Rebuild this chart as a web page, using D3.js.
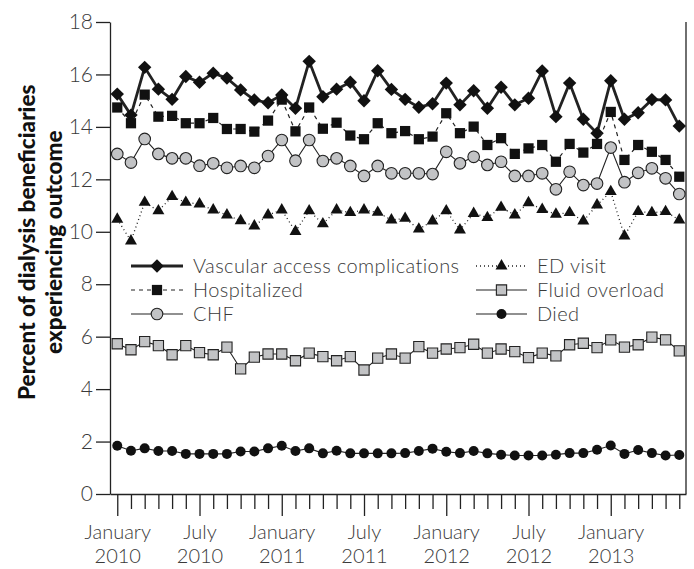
<!DOCTYPE html>
<html>
<head>
<meta charset="utf-8">
<script src="https://cdn.jsdelivr.net/npm/d3@7"></script>
<style>
  html, body { margin: 0; padding: 0; background: #ffffff; }
  svg { display: block; }
  text { font-family: "Lato", "Noto Sans", sans-serif; }
</style>
</head>
<body>
<svg id="chart" width="694" height="569"></svg>
<script>
// ---- Data (monthly, January 2010 – June 2013) ----
const months = ["2010-01","2010-02","2010-03","2010-04","2010-05","2010-06","2010-07","2010-08","2010-09","2010-10","2010-11","2010-12",
                "2011-01","2011-02","2011-03","2011-04","2011-05","2011-06","2011-07","2011-08","2011-09","2011-10","2011-11","2011-12",
                "2012-01","2012-02","2012-03","2012-04","2012-05","2012-06","2012-07","2012-08","2012-09","2012-10","2012-11","2012-12",
                "2013-01","2013-02","2013-03","2013-04","2013-05","2013-06"];
const tickLabels = [["January","2010"],["July","2010"],["January","2011"],["July","2011"],["January","2012"],["July","2012"],["January","2013"]];
const yTicks = [0,2,4,6,8,10,12,14,16,18];

const vascular = [15.25,14.45,16.27,15.44,15.05,15.92,15.70,16.05,15.86,15.41,15.03,14.92,15.22,14.71,16.50,15.15,15.44,15.70,15.00,16.14,15.43,
                  15.05,14.75,14.88,15.67,14.84,15.38,14.71,15.51,14.84,15.09,16.13,14.39,15.67,14.29,13.76,15.76,14.29,14.54,15.04,15.03,14.03];
const hospitalized = [14.74,14.14,15.23,14.39,14.42,14.14,14.14,14.34,13.92,13.92,13.82,14.24,15.04,13.83,14.74,13.93,14.16,13.67,13.53,14.14,13.76,
                      13.84,13.53,13.63,14.52,13.76,14.01,13.31,13.57,12.97,13.18,13.31,12.67,13.35,13.02,13.35,14.57,12.74,13.31,13.05,12.74,12.10];
const chf = [12.97,12.64,13.54,12.97,12.80,12.80,12.52,12.61,12.44,12.51,12.44,12.89,13.50,12.71,13.50,12.70,12.80,12.51,12.13,12.51,12.23,
             12.23,12.23,12.20,13.05,12.61,12.86,12.55,12.67,12.13,12.13,12.23,11.62,12.29,11.78,11.84,13.21,11.89,12.25,12.42,12.04,11.44];
const edVisit = [10.48,9.65,11.12,10.80,11.34,11.12,11.06,10.83,10.64,10.42,10.22,10.64,10.83,10.01,10.80,10.30,10.83,10.73,10.83,10.74,10.45,
                 10.51,10.10,10.41,10.80,10.07,10.70,10.54,10.93,10.64,11.11,10.85,10.67,10.73,10.41,11.02,11.53,9.84,10.77,10.73,10.77,10.45];
const fluidOverload = [5.73,5.50,5.81,5.66,5.31,5.66,5.39,5.31,5.60,4.77,5.22,5.34,5.34,5.08,5.37,5.24,5.08,5.24,4.73,5.18,5.34,
                       5.18,5.62,5.37,5.53,5.58,5.71,5.37,5.53,5.43,5.20,5.37,5.27,5.69,5.75,5.58,5.88,5.60,5.69,5.98,5.88,5.46];
const died = [1.84,1.65,1.74,1.64,1.64,1.53,1.53,1.53,1.53,1.62,1.62,1.74,1.84,1.64,1.74,1.55,1.65,1.55,1.55,1.55,1.55,
              1.56,1.64,1.73,1.61,1.56,1.64,1.55,1.50,1.47,1.47,1.47,1.50,1.56,1.56,1.69,1.85,1.53,1.68,1.56,1.47,1.49];

const seriesNames = ["Vascular access complications","Hospitalized","CHF","ED visit","Fluid overload","Died"];

// ---- Layout ----
const svg = d3.select("#chart");
const plotL = 110, plotR = 686, plotT = 22, plotB = 494;

const x = d3.scaleLinear().domain([-0.53, months.length - 1 + 0.49]).range([plotL, plotR]);
const y = d3.scaleLinear().domain([0, 18]).range([plotB, plotT]);

// ---- Axes ----
const yAxis = d3.axisLeft(y).tickValues(yTicks).tickSize(14).tickSizeOuter(0).tickPadding(3);
const gy = svg.append("g").attr("transform", `translate(${plotL},0)`).call(yAxis);
gy.select(".domain").attr("stroke", "#222").attr("stroke-width", 1.3);
gy.selectAll(".tick line").attr("stroke", "#222").attr("stroke-width", 1.3);
gy.selectAll(".tick text").attr("font-size", 21).attr("fill", "#3a3a3a").attr("font-weight", 300);

const xAxis = d3.axisBottom(x).tickValues(d3.range(months.length)).tickSizeOuter(0).tickFormat("");
const gx = svg.append("g").attr("transform", `translate(0,${plotB})`).call(xAxis);
gx.select(".domain").attr("stroke", "#222").attr("stroke-width", 1.3);
gx.selectAll(".tick line")
  .attr("stroke", "#222").attr("stroke-width", 1.3)
  .attr("y2", (d) => d % 6 === 0 ? 22 : 15);
gx.selectAll(".tick").filter(d => d % 6 === 0).each(function(d) {
  const lab = tickLabels[d / 6];
  const t = d3.select(this).append("text")
    .attr("fill", "#3a3a3a").attr("font-size", 20).attr("font-weight", 300)
    .attr("text-anchor", "middle");
  t.append("tspan").attr("x", 0).attr("y", 45).text(lab[0]);
  t.append("tspan").attr("x", 0).attr("y", 69).text(lab[1]);
});

// right border
svg.append("line").attr("x1", plotR).attr("x2", plotR).attr("y1", y(18)).attr("y2", y(0))
  .attr("stroke", "#222").attr("stroke-width", 1.3);

// ---- Y title ----
const titleG = svg.append("g").attr("transform", `translate(0,${y(9.6)})`);
titleG.append("text").attr("transform", "translate(35,0) rotate(-90)")
  .attr("text-anchor", "middle").attr("font-size", 22.5).attr("font-weight", 900).attr("fill", "#111")
  .text("Percent of dialysis beneficiaries");
titleG.append("text").attr("transform", "translate(62,0) rotate(-90)")
  .attr("text-anchor", "middle").attr("font-size", 22.5).attr("font-weight", 900).attr("fill", "#111")
  .text("experiencing outcome");

// ---- Marker helpers ----
const grayFill = "#c2c3c5";
function drawMarker(g, type, cx, cy) {
  if (type === "diamond") {
    g.append("path").attr("d", d3.symbol(d3.symbolSquare, 90)())
      .attr("transform", `translate(${cx},${cy}) rotate(45)`).attr("fill", "#111");
  } else if (type === "square") {
    g.append("path").attr("d", d3.symbol(d3.symbolSquare, 105)())
      .attr("transform", `translate(${cx},${cy})`).attr("fill", "#111");
  } else if (type === "circleGray") {
    g.append("circle").attr("cx", cx).attr("cy", cy).attr("r", 5.8)
      .attr("fill", grayFill).attr("stroke", "#222").attr("stroke-width", 1.1);
  } else if (type === "triangle") {
    g.append("path").attr("d", d3.symbol(d3.symbolTriangle, 62)())
      .attr("transform", `translate(${cx},${cy})`).attr("fill", "#111");
  } else if (type === "squareGray") {
    g.append("path").attr("d", d3.symbol(d3.symbolSquare, 105)())
      .attr("transform", `translate(${cx},${cy})`).attr("fill", grayFill).attr("stroke", "#222").attr("stroke-width", 1.1);
  } else if (type === "dot") {
    g.append("circle").attr("cx", cx).attr("cy", cy).attr("r", 5).attr("fill", "#111");
  }
}

const series = [
  { name: seriesNames[0], values: vascular,      marker: "diamond",    width: 2.8, dash: null },
  { name: seriesNames[1], values: hospitalized,  marker: "square",     width: 1.2, dash: "4,4" },
  { name: seriesNames[2], values: chf,           marker: "circleGray", width: 1.1, dash: null },
  { name: seriesNames[3], values: edVisit,       marker: "triangle",   width: 1.3, dash: "1,3" },
  { name: seriesNames[4], values: fluidOverload, marker: "squareGray", width: 1.1, dash: null },
  { name: seriesNames[5], values: died,          marker: "dot",        width: 1.1, dash: null }
];

const line = d3.line().x((d, i) => x(i)).y(d => y(d));

series.forEach(s => {
  const g = svg.append("g");
  g.append("path").datum(s.values).attr("d", line)
    .attr("fill", "none").attr("stroke", "#222").attr("stroke-width", s.width)
    .attr("stroke-dasharray", s.dash);
  s.values.forEach((v, i) => drawMarker(g, s.marker, x(i), y(v)));
});

// ---- Legend ----
const legendCols = [
  { x1: 131, x2: 183, tx: 193 },
  { x1: 476, x2: 527, tx: 537 }
];
const legendRowsY = [266, 290, 314];
series.forEach((s, k) => {
  const col = legendCols[k < 3 ? 0 : 1];
  const ly = legendRowsY[k % 3];
  const g = svg.append("g");
  g.append("line").attr("x1", col.x1).attr("x2", col.x2).attr("y1", ly).attr("y2", ly)
    .attr("stroke", "#222").attr("stroke-width", s.width).attr("stroke-dasharray", s.dash);
  drawMarker(g, s.marker, (col.x1 + col.x2) / 2, ly);
  g.append("text").attr("x", col.tx).attr("y", ly + 7).attr("font-size", 20).attr("font-weight", 300)
    .attr("letter-spacing", 0.4).attr("fill", "#3a3a3a").text(s.name);
});
</script>
</body>
</html>
